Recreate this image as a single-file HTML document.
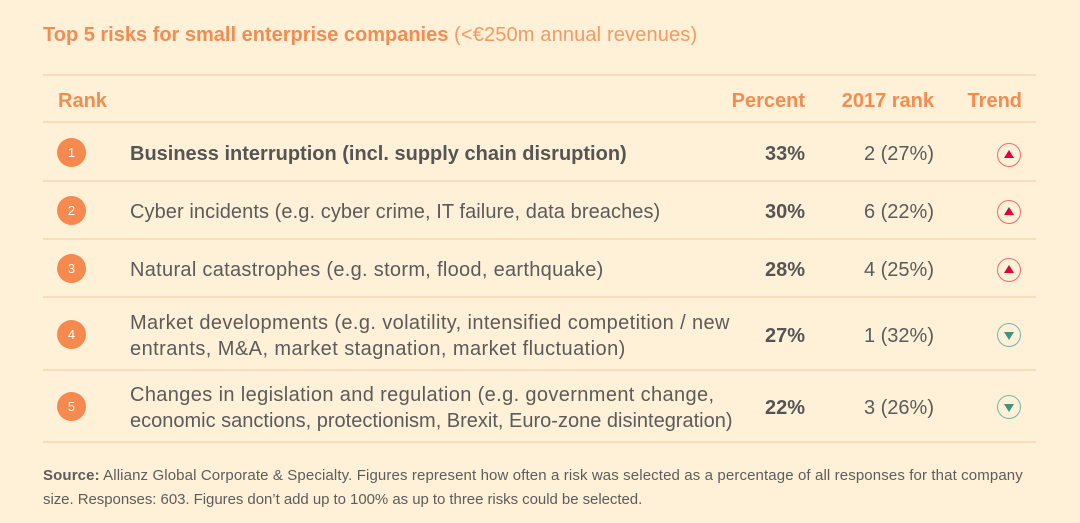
<!DOCTYPE html>
<html>
<head>
<meta charset="utf-8">
<style>
  html,body{margin:0;padding:0;}
  body{width:1080px;height:523px;background:#FEF1D7;position:relative;overflow:hidden;font-family:"Liberation Sans",Arial,sans-serif;color:#5a5a5a;}
  .a{position:absolute;white-space:nowrap;}
  .title{left:43px;top:23px;line-height:24px;font-size:20px;color:#F28D52;}
  .title b{font-weight:bold;}
  .title span{font-weight:normal;color:#F49A62;letter-spacing:0.15px;}
  .hl{position:absolute;left:43px;width:993px;height:2px;background:#FADCBC;}
  .hdr{font-size:20px;font-weight:bold;color:#F28D52;line-height:24px;top:89px;}
  .desc{left:130px;font-size:20px;line-height:26px;color:#5b5b5b;}
  .pct{font-size:20px;font-weight:bold;line-height:24px;color:#555;right:275px;}
  .old{font-size:20px;line-height:24px;color:#5b5b5b;right:146px;}
  .rk{position:absolute;left:57px;width:29px;height:29px;border-radius:50%;background:#F5894E;color:#fff;font-size:13px;line-height:29px;text-align:center;}
  .tr{position:absolute;left:997px;width:22px;height:22px;border-radius:50%;}
  .up{border:1.5px solid #EE6A72;}
  .dn{border:1.5px solid #72B8A5;}
  .tri-up{position:absolute;left:6px;top:6px;width:0;height:0;border-left:5px solid transparent;border-right:5px solid transparent;border-bottom:8px solid #E4003A;}
  .tri-dn{position:absolute;left:6px;top:8px;width:0;height:0;border-left:5px solid transparent;border-right:5px solid transparent;border-top:8px solid #3A9783;}
  .src{left:43px;font-size:15px;line-height:24px;color:#5d5d5d;}
</style>
</head>
<body>
  <div class="a title"><b>Top 5 risks for small enterprise companies</b><span> (&lt;€250m annual revenues)</span></div>

  <div class="hl" style="top:74px"></div>
  <div class="a hdr" style="left:58px">Rank</div>
  <div class="a hdr" style="right:275px">Percent</div>
  <div class="a hdr" style="right:146px">2017 rank</div>
  <div class="a hdr" style="right:58px">Trend</div>
  <div class="hl" style="top:121px"></div>

  <!-- Row 1 -->
  <div class="rk" style="top:138px">1</div>
  <div class="a desc" style="top:141px;font-weight:bold;color:#555">Business interruption (incl. supply chain disruption)</div>
  <div class="a pct" style="top:142px">33%</div>
  <div class="a old" style="top:142px">2 (27%)</div>
  <div class="tr up" style="top:143px"><div class="tri-up"></div></div>
  <div class="hl" style="top:180px"></div>

  <!-- Row 2 -->
  <div class="rk" style="top:196px">2</div>
  <div class="a desc" style="top:199px;letter-spacing:0.08px">Cyber incidents (e.g. cyber crime, IT failure, data breaches)</div>
  <div class="a pct" style="top:200px">30%</div>
  <div class="a old" style="top:200px">6 (22%)</div>
  <div class="tr up" style="top:200px"><div class="tri-up"></div></div>
  <div class="hl" style="top:238px"></div>

  <!-- Row 3 -->
  <div class="rk" style="top:254px">3</div>
  <div class="a desc" style="top:257px;letter-spacing:0.3px">Natural catastrophes (e.g. storm, flood, earthquake)</div>
  <div class="a pct" style="top:258px">28%</div>
  <div class="a old" style="top:258px">4 (25%)</div>
  <div class="tr up" style="top:258px"><div class="tri-up"></div></div>
  <div class="hl" style="top:296px"></div>

  <!-- Row 4 -->
  <div class="rk" style="top:320px">4</div>
  <div class="a desc" style="top:310px"><span style="letter-spacing:0.38px">Market developments (e.g. volatility, intensified competition / new</span><br><span style="letter-spacing:0.44px">entrants, M&amp;A, market stagnation, market fluctuation)</span></div>
  <div class="a pct" style="top:324px">27%</div>
  <div class="a old" style="top:324px">1 (32%)</div>
  <div class="tr dn" style="top:323px"><div class="tri-dn"></div></div>
  <div class="hl" style="top:369px"></div>

  <!-- Row 5 -->
  <div class="rk" style="top:392px">5</div>
  <div class="a desc" style="top:382px"><span style="letter-spacing:0.37px">Changes in legislation and regulation (e.g. government change,</span><br><span>economic sanctions, protectionism, Brexit, Euro-zone disintegration)</span></div>
  <div class="a pct" style="top:396px">22%</div>
  <div class="a old" style="top:396px">3 (26%)</div>
  <div class="tr dn" style="top:395px"><div class="tri-dn"></div></div>
  <div class="hl" style="top:441px"></div>

  <div class="a src" style="top:464px;letter-spacing:0.12px"><b>Source:</b> Allianz Global Corporate &amp; Specialty. Figures represent how often a risk was selected as a percentage of all responses for that company</div>
  <div class="a src" style="top:488px;letter-spacing:-0.05px">size. Responses: 603. Figures don’t add up to 100% as up to three risks could be selected.</div>
</body>
</html>
